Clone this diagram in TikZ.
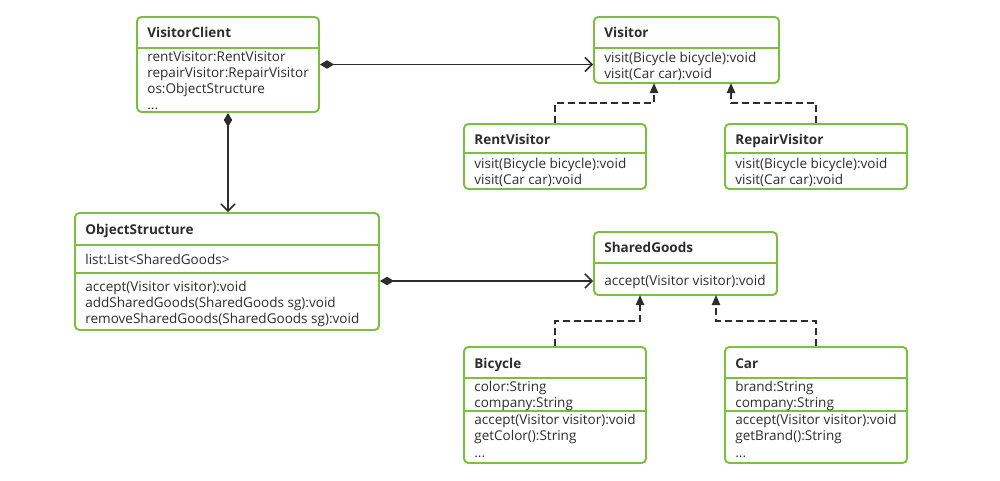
\documentclass[tikz,border=0pt]{standalone}
\usepackage{fontspec}
\setmainfont{Open Sans}
\usetikzlibrary{arrows.meta,fit}
\definecolor{umlgreen}{RGB}{122,192,62}
\definecolor{umlink}{RGB}{45,45,45}
\tikzset{
  box/.style={draw=umlgreen, line width=1.1pt, rounded corners=2.5pt, inner sep=0pt},
  sep/.style={draw=umlgreen, line width=0.9pt},
  head/.style={anchor=west, inner sep=0pt, text=umlink, text height=7.2pt, text depth=1.6pt,
    font=\fontsize{7.7}{9}\selectfont\bfseries},
  row/.style={anchor=west, inner sep=0pt, text=umlink, text height=7.2pt, text depth=1.6pt,
    font=\fontsize{7.7}{9}\selectfont},
  has/.style={draw=umlink, line width=0.9pt,
    {Diamond[length=8pt,width=4.8pt]}-{Straight Barb[length=4pt,width=8pt,line width=0.9pt]}},
  impl/.style={draw=umlink, line width=0.9pt, dash pattern=on 4pt off 2.2pt,
    -{Triangle[length=5.8pt,width=4.8pt]}},
}
\begin{document}
\begin{tikzpicture}[x=0.02cm, y=-0.02cm]
		\useasboundingbox (0,0) rectangle (1000,480);
		
		% classes
		\node[box, fit={(137,17) (319,112)}] (client) {};
		\draw[sep] (client.west |- 0,48) -- (client.east |- 0,48);
		\node[head] (clientH) at (147,33) {VisitorClient};
		\node[row] (client1) at (147,57) {rentVisitor:RentVisitor};
		\node[row] (client2) at (147,73) {repairVisitor:RepairVisitor};
		\node[row] (client3) at (147,89) {os:ObjectStructure};
		\node[row] (client4) at (147,105) {...};
		
		\node[box, fit={(594,17) (779,83)}] (visitor) {};
		\draw[sep] (visitor.west |- 0,48) -- (visitor.east |- 0,48);
		\node[head] (visitorH) at (604,33) {Visitor};
		\node[row] (visitor1) at (604,58) {visit(Bicycle bicycle):void};
		\node[row] (visitor2) at (604,74) {visit(Car car):void};
		
		\node[box, fit={(464,124) (646,189)}] (rent) {};
		\draw[sep] (rent.west |- 0,153) -- (rent.east |- 0,153);
		\node[head] (rentH) at (474,140) {RentVisitor};
		\node[row] (rent1) at (474,164) {visit(Bicycle bicycle):void};
		\node[row] (rent2) at (474,180) {visit(Car car):void};
		
		\node[box, fit={(725,124) (907,189)}] (repair) {};
		\draw[sep] (repair.west |- 0,153) -- (repair.east |- 0,153);
		\node[head] (repairH) at (735,140) {RepairVisitor};
		\node[row] (repair1) at (735,164) {visit(Bicycle bicycle):void};
		\node[row] (repair2) at (735,180) {visit(Car car):void};
		
		\node[box, fit={(75,213) (379,330)}] (os) {};
		\draw[sep] (os.west |- 0,245) -- (os.east |- 0,245);
		\draw[sep] (os.west |- 0,273) -- (os.east |- 0,273);
		\node[head] (osH) at (85,230) {ObjectStructure};
		\node[row] (os1) at (85,260) {list:List<SharedGoods>};
		\node[row] (os2) at (85,287) {accept(Visitor visitor):void};
		\node[row] (os3) at (85,303) {addSharedGoods(SharedGoods sg):void};
		\node[row] (os4) at (85,319) {removeSharedGoods(SharedGoods sg):void};
		
		\node[box, fit={(594,232) (777,295)}] (goods) {};
		\draw[sep] (goods.west |- 0,263) -- (goods.east |- 0,263);
		\node[head] (goodsH) at (604,248) {SharedGoods};
		\node[row] (goods1) at (604,281) {accept(Visitor visitor):void};
		
		\node[box, fit={(464,347) (646,463)}] (bike) {};
		\draw[sep] (bike.west |- 0,378) -- (bike.east |- 0,378);
		\draw[sep] (bike.west |- 0,411) -- (bike.east |- 0,411);
		\node[head] (bikeH) at (474,364) {Bicycle};
		\node[row] (bike1) at (474,387) {color:String};
		\node[row] (bike2) at (474,403) {company:String};
		\node[row] (bike3) at (474,420) {accept(Visitor visitor):void};
		\node[row] (bike4) at (474,436) {getColor():String};
		\node[row] (bike5) at (474,453) {...};
		
		\node[box, fit={(725,347) (907,463)}] (car) {};
		\draw[sep] (car.west |- 0,378) -- (car.east |- 0,378);
		\draw[sep] (car.west |- 0,411) -- (car.east |- 0,411);
		\node[head] (carH) at (735,364) {Car};
		\node[row] (car1) at (735,387) {brand:String};
		\node[row] (car2) at (735,403) {company:String};
		\node[row] (car3) at (735,420) {accept(Visitor visitor):void};
		\node[row] (car4) at (735,436) {getBrand():String};
		\node[row] (car5) at (735,453) {...};
		
		% associations
		\draw[has] (client.east) -- (client.east -| visitor.west);
		\draw[has] (client.south) -- (client.south |- os.north);
		\draw[has] ([yshift=-5.4pt]os.east) -- ([yshift=-5.4pt]os.east -| goods.west);
		
		% realizations
		\coordinate (visitorL) at (654,83);
		\coordinate (visitorR) at (731,83);
		\coordinate (goodsL) at (640,295);
		\coordinate (goodsR) at (716,295);
		\draw[impl] (rent.north) -- ++(0,-20) -| (visitorL);
		\draw[impl] (repair.north) -- ++(0,-20) -| (visitorR);
		\draw[impl] (bike.north) -- ++(0,-25) -| (goodsL);
		\draw[impl] (car.north) -- ++(0,-25) -| (goodsR);
		
	\end{tikzpicture}
\end{document}
